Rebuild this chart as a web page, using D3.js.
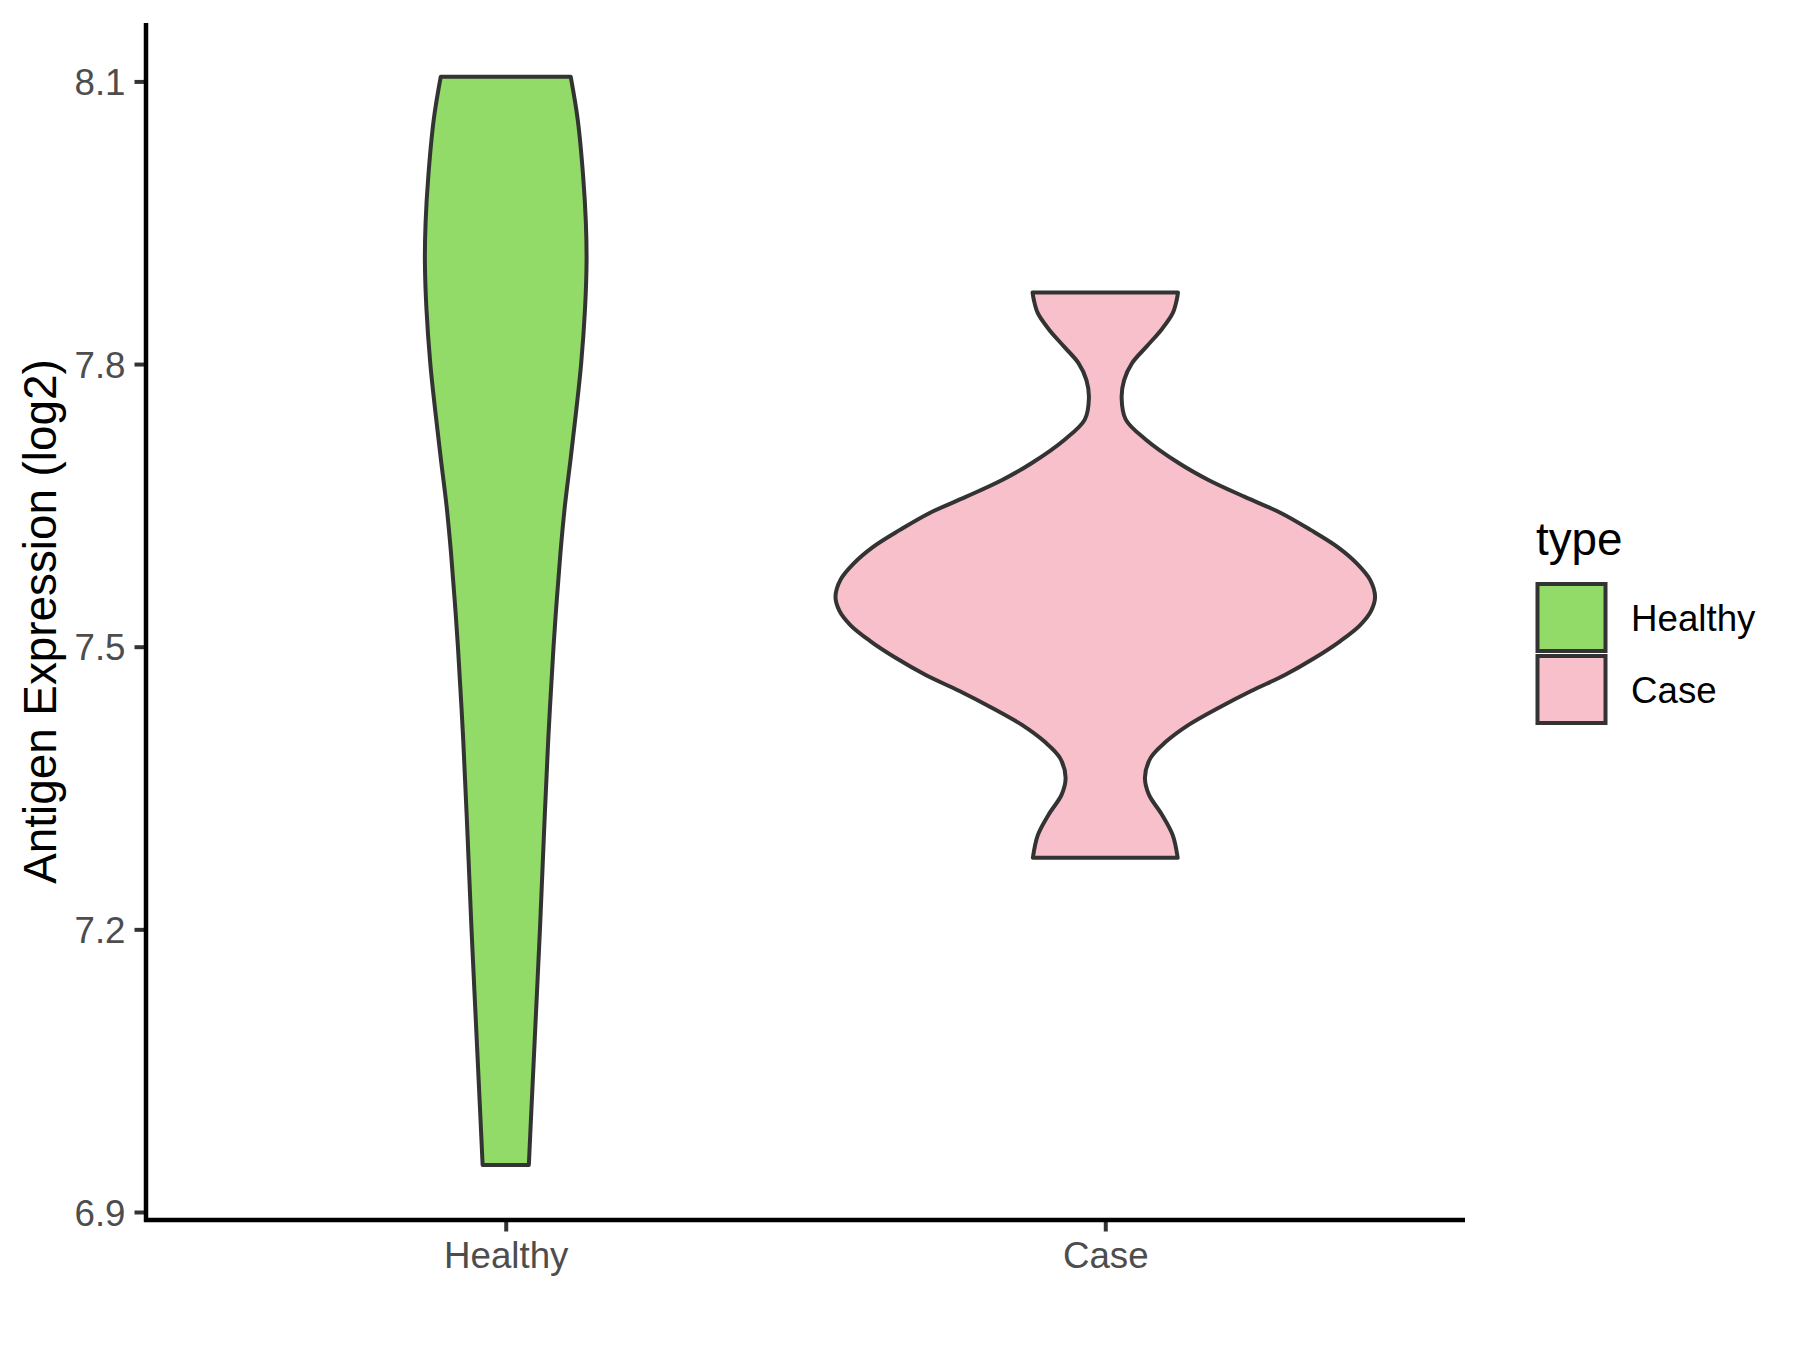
<!DOCTYPE html>
<html>
<head>
<meta charset="utf-8">
<script src="https://cdn.jsdelivr.net/npm/d3@7"></script>
<style>
  html, body { margin: 0; padding: 0; background: #ffffff; }
  svg { display: block; }
  text { font-family: "Liberation Sans", Arial, sans-serif; }
</style>
</head>
<body>
<svg id="chart" width="1800" height="1350"></svg>
<script>
// ---------------- data ----------------
const categories = ["Healthy", "Case"];
const yTicks = [6.9, 7.2, 7.5, 7.8, 8.1];
const yTitle = "Antigen Expression (log2)";
const legendTitle = "type";
const fillColors = ["#93DB69", "#F8C0CB"];

// violin density profiles (value, density)
const healthyValues  = [8.105, 8.060, 8.000, 7.950, 7.910, 7.860, 7.800, 7.750, 7.700, 7.650, 7.600, 7.550, 7.500, 7.400, 7.300, 7.200, 7.100, 7.000, 6.950];
const healthyDensity = [0.655, 0.725, 0.780, 0.808, 0.815, 0.800, 0.760, 0.710, 0.655, 0.597, 0.552, 0.515, 0.482, 0.428, 0.385, 0.345, 0.300, 0.255, 0.233];

const caseValues  = [7.876, 7.868, 7.854, 7.837, 7.819, 7.801, 7.783, 7.764, 7.741, 7.720, 7.695, 7.677, 7.659, 7.642, 7.624, 7.606, 7.588, 7.571, 7.553, 7.538, 7.523, 7.506, 7.488, 7.470, 7.453, 7.435, 7.417, 7.399, 7.382, 7.361, 7.343, 7.322, 7.300, 7.276];
const caseDensity = [0.733, 0.720, 0.680, 0.570, 0.420, 0.270, 0.190, 0.165, 0.207, 0.407, 0.740, 1.040, 1.407, 1.770, 2.070, 2.340, 2.540, 2.670, 2.720, 2.680, 2.570, 2.370, 2.110, 1.810, 1.470, 1.140, 0.840, 0.610, 0.457, 0.400, 0.440, 0.570, 0.680, 0.730];

// ---------------- layout ----------------
const panel = { left: 146, right: 1465, top: 23, bottom: 1220 };
const svg = d3.select("#chart");

const x = d3.scalePoint().domain(categories).range([panel.left, panel.right]).padding(0.6);
const y = d3.scaleLinear().domain([6.8915, 8.162]).range([panel.bottom, panel.top]);

const series = [
  { name: "Healthy", values: healthyValues, density: healthyDensity },
  { name: "Case", values: caseValues, density: caseDensity }
];
const maxD = d3.max(series, s => d3.max(s.density));
const w = d3.scaleLinear().domain([0, maxD]).range([0, x.step() * 0.45]);
const color = d3.scaleOrdinal().domain(categories).range(fillColors);

// ---------------- violins ----------------
series.forEach(s => {
  const pts = s.values.map((v, i) => ({ v: v, d: s.density[i] }));
  const cx = x(s.name);
  const area = d3.area()
    .y(d => y(d.v))
    .x0(d => cx - w(d.d))
    .x1(d => cx + w(d.d))
    .curve(d3.curveCatmullRom.alpha(0.5));
  svg.append("path")
    .attr("d", area(pts))
    .attr("fill", color(s.name))
    .attr("stroke", "#333333")
    .attr("stroke-width", 4)
    .attr("stroke-linejoin", "round");
});

// ---------------- axes ----------------
const yAxis = d3.axisLeft(y).tickValues(yTicks).tickFormat(d3.format(".1f")).tickSize(11.5).tickPadding(9);
const gy = svg.append("g").attr("transform", `translate(${panel.left},0)`).call(yAxis);
gy.select(".domain").remove();
gy.selectAll(".tick line").attr("stroke", "#333333").attr("stroke-width", 4);
gy.selectAll(".tick text").attr("fill", "#4D4D4D").attr("font-size", 36.7)
  .attr("font-family", "Liberation Sans, Arial, sans-serif").attr("dy", "0.36em");

const xAxis = d3.axisBottom(x).tickSize(11.5).tickPadding(9);
const gx = svg.append("g").attr("transform", `translate(0,${panel.bottom})`).call(xAxis);
gx.select(".domain").remove();
gx.selectAll(".tick line").attr("stroke", "#333333").attr("stroke-width", 4);
gx.selectAll(".tick text").attr("fill", "#4D4D4D").attr("font-size", 36.7)
  .attr("font-family", "Liberation Sans, Arial, sans-serif").attr("dy", "0.74em");

// axis lines
svg.append("line").attr("x1", panel.left).attr("x2", panel.left)
  .attr("y1", panel.top).attr("y2", panel.bottom + 2)
  .attr("stroke", "#000").attr("stroke-width", 4.5);
svg.append("line").attr("x1", panel.left - 2).attr("x2", panel.right)
  .attr("y1", panel.bottom).attr("y2", panel.bottom)
  .attr("stroke", "#000").attr("stroke-width", 4.5);

// y title
svg.append("text")
  .attr("transform", `translate(56,${(panel.top + panel.bottom) / 2}) rotate(-90)`)
  .attr("text-anchor", "middle")
  .attr("font-size", 45.8)
  .attr("fill", "#000")
  .text(yTitle);

// ---------------- legend ----------------
const lg = svg.append("g");
lg.append("text").attr("x", 1536).attr("y", 555).attr("font-size", 45.8).attr("fill", "#000").text(legendTitle);
categories.forEach((c, i) => {
  const top = 584 + i * 72;
  lg.append("rect").attr("x", 1537.5).attr("y", top).attr("width", 68).attr("height", 67)
    .attr("fill", color(c)).attr("stroke", "#333333").attr("stroke-width", 4);
  lg.append("text").attr("x", 1631).attr("y", top + 34 + 13).attr("font-size", 36.7).attr("fill", "#000").text(c);
});
</script>
</body>
</html>
